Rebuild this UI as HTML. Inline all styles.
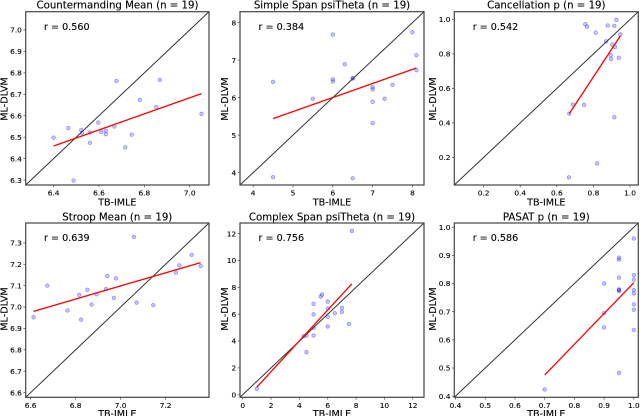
<!DOCTYPE html>
<html lang="en">
<head>
<meta charset="utf-8">
<title>TB-IMLE vs ML-DLVM</title>
<style>
html,body{margin:0;padding:0;background:#fff;width:640px;height:416px;overflow:hidden}
svg{display:block;filter:blur(0.3px)}
text{font-family:"DejaVu Sans","Liberation Sans",sans-serif;fill:#000;stroke:#000;stroke-width:0.12px}
.title{font-size:10.2px;text-anchor:middle}
.axis-label{font-size:9.6px;text-anchor:middle}
.r{font-size:9.6px}
.tick{font-size:7.4px}
</style>
</head>
<body>
<svg id="figure" width="640" height="416" viewBox="0 0 640 416" xmlns="http://www.w3.org/2000/svg">
  <g id="p0">
    <text class="title" x="117.5" y="8.7">Countermanding Mean (n = 19)</text>
    <text class="r" x="44" y="29.8">r = 0.560</text>
    <text class="axis-label" x="117.3" y="205.5">TB-IMLE</text>
    <text class="axis-label" transform="translate(7.5,99) rotate(-90)">ML-DLVM</text>
  </g>
  <g id="p1">
    <text class="title" x="332" y="8.7">Simple Span psiTheta (n = 19)</text>
    <text class="r" x="258.5" y="29.8">r = 0.384</text>
    <text class="axis-label" x="332" y="205.5">TB-IMLE</text>
    <text class="axis-label" transform="translate(228,99) rotate(-90)">ML-DLVM</text>
  </g>
  <g id="p2">
    <text class="title" x="546.3" y="8.7">Cancellation p (n = 19)</text>
    <text class="r" x="472.7" y="29.8">r = 0.542</text>
    <text class="axis-label" x="546.3" y="205.5">TB-IMLE</text>
    <text class="axis-label" transform="translate(436,99) rotate(-90)">ML-DLVM</text>
  </g>
  <g id="p3">
    <text class="title" x="117.3" y="220.7">Stroop Mean (n = 19)</text>
    <text class="r" x="44" y="240.8">r = 0.639</text>
    <text class="axis-label" x="117.3" y="417">TB-IMLE</text>
    <text class="axis-label" transform="translate(7.5,309) rotate(-90)">ML-DLVM</text>
  </g>
  <g id="p4">
    <text class="title" x="332" y="220.7">Complex Span psiTheta (n = 19)</text>
    <text class="r" x="258.5" y="240.8">r = 0.756</text>
    <text class="axis-label" x="332" y="417">TB-IMLE</text>
    <text class="axis-label" transform="translate(228,309) rotate(-90)">ML-DLVM</text>
  </g>
  <g id="p5">
    <text class="title" x="546.3" y="220.7">PASAT p (n = 19)</text>
    <text class="r" x="472.7" y="240.8">r = 0.586</text>
    <text class="axis-label" x="546.3" y="417">TB-IMLE</text>
    <text class="axis-label" transform="translate(436,309) rotate(-90)">ML-DLVM</text>
  </g>
</svg>
<script>
// ---- Chart data ----
const countermandingX = [6.40,6.465,6.488,6.522,6.525,6.56,6.56,6.597,6.61,6.63,6.63,6.668,6.677,6.716,6.744,6.78,6.853,6.868,7.052];
const countermandingY = [6.498,6.542,6.298,6.534,6.52,6.522,6.474,6.568,6.525,6.53,6.514,6.55,6.762,6.453,6.512,6.674,6.64,6.767,6.609];
const countermandingFitX = [6.40,7.052];
const countermandingFitY = [6.459,6.703];
const countermandingLim = [6.277,7.085];
const countermandingXTicks = ["6.4","6.6","6.8","7.0"];
const countermandingYTicks = ["6.3","6.4","6.5","6.6","6.7","6.8","6.9","7.0"];

const simpleSpanX = [4.5,4.5,5.5,6,6,6,6.3,6.5,6.5,6.5,7,7,7,7,7.3,7.5,8,8.1,8.1];
const simpleSpanY = [3.88,6.42,5.97,7.68,6.49,6.43,6.89,6.51,6.52,3.85,6.28,6.22,5.89,5.32,5.97,6.34,7.74,7.13,6.73];
const simpleSpanFitX = [4.5,8.1];
const simpleSpanFitY = [5.44,6.79];
const simpleSpanLim = [3.67,8.29];
const simpleSpanXTicks = ["4","5","6","7","8"];
const simpleSpanYTicks = ["4","5","6","7","8"];

const cancellationX = [0.666,0.668,0.688,0.749,0.755,0.765,0.812,0.82,0.869,0.878,0.894,0.896,0.903,0.914,0.914,0.918,0.925,0.938,0.947];
const cancellationY = [0.084,0.454,0.507,0.505,0.973,0.958,0.923,0.165,0.873,0.965,0.794,0.771,0.855,0.963,0.433,0.84,0.998,0.778,0.913];
const cancellationFitX = [0.668,0.947];
const cancellationFitY = [0.454,0.905];
const cancellationLim = [0.04,1.045];
const cancellationXTicks = ["0.2","0.4","0.6","0.8","1.0"];
const cancellationYTicks = ["0.2","0.4","0.6","0.8","1.0"];

const stroopX = [6.613,6.674,6.764,6.816,6.824,6.852,6.871,6.893,6.935,6.941,6.97,6.979,7.059,7.071,7.145,7.246,7.261,7.316,7.356];
const stroopY = [6.952,7.10,6.984,7.057,6.941,7.081,7.012,7.06,7.084,7.145,7.043,7.134,7.328,7.021,7.009,7.161,7.195,7.244,7.192];
const stroopFitX = [6.613,7.356];
const stroopFitY = [6.98,7.208];
const stroopLim = [6.578,7.393];
const stroopXTicks = ["6.6","6.8","7.0","7.2"];
const stroopYTicks = ["6.6","6.7","6.8","6.9","7.0","7.1","7.2","7.3"];

const complexSpanX = [1,4.3,4.5,4.5,5,5,5,5,5.5,5.6,6,6,6,6,6.5,7,7,7.5,7.7];
const complexSpanY = [0.45,4.36,4.41,3.17,6.77,5.98,4.98,4.41,7.31,7.46,6.94,6.42,5.8,5.08,6.07,6.47,6.17,5.28,12.2];
const complexSpanFitX = [1,7.7];
const complexSpanFitY = [0.57,8.26];
const complexSpanLim = [-0.19,12.79];
const complexSpanXTicks = ["0","2","4","6","8","10","12"];
const complexSpanYTicks = ["0","2","4","6","8","10","12"];

const pasatX = [0.7,0.9,0.9,0.9,0.95,0.95,0.95,0.95,0.95,0.95,0.95,1,1,1,1,1,1,1,1];
const pasatY = [0.424,0.8,0.695,0.644,0.892,0.885,0.821,0.779,0.777,0.773,0.483,0.96,0.83,0.814,0.777,0.765,0.726,0.707,0.635];
const pasatFitX = [0.7,1];
const pasatFitY = [0.475,0.803];
const pasatLim = [0.396,1.015];
const pasatXTicks = ["0.4","0.5","0.6","0.7","0.8","0.9","1.0"];
const pasatYTicks = ["0.4","0.5","0.6","0.7","0.8","0.9","1.0"];

// ---- Layout ----
const SVGNS = "http://www.w3.org/2000/svg";
const panels = [
  {id:"p0",l:25.7,r:209,t:11.7,b:185,x:countermandingX,y:countermandingY,fx:countermandingFitX,fy:countermandingFitY,lim:countermandingLim,xt:countermandingXTicks,yt:countermandingYTicks},
  {id:"p1",l:240,r:424,t:11.7,b:185,x:simpleSpanX,y:simpleSpanY,fx:simpleSpanFitX,fy:simpleSpanFitY,lim:simpleSpanLim,xt:simpleSpanXTicks,yt:simpleSpanYTicks},
  {id:"p2",l:454.3,r:638.3,t:11.7,b:185,x:cancellationX,y:cancellationY,fx:cancellationFitX,fy:cancellationFitY,lim:cancellationLim,xt:cancellationXTicks,yt:cancellationYTicks},
  {id:"p3",l:25.7,r:209,t:223,b:397.3,x:stroopX,y:stroopY,fx:stroopFitX,fy:stroopFitY,lim:stroopLim,xt:stroopXTicks,yt:stroopYTicks},
  {id:"p4",l:240,r:424,t:223,b:397.3,x:complexSpanX,y:complexSpanY,fx:complexSpanFitX,fy:complexSpanFitY,lim:complexSpanLim,xt:complexSpanXTicks,yt:complexSpanYTicks},
  {id:"p5",l:454.3,r:638.3,t:223,b:397.3,x:pasatX,y:pasatY,fx:pasatFitX,fy:pasatFitY,lim:pasatLim,xt:pasatXTicks,yt:pasatYTicks}
];

function make(parent, tag, attrs) {
  const el = document.createElementNS(SVGNS, tag);
  for (const k in attrs) el.setAttribute(k, attrs[k]);
  parent.appendChild(el);
  return el;
}

panels.forEach(function (p) {
  const g = document.getElementById(p.id);
  const sx = function (v) { return p.l + (v - p.lim[0]) / (p.lim[1] - p.lim[0]) * (p.r - p.l); };
  const sy = function (v) { return p.b - (v - p.lim[0]) / (p.lim[1] - p.lim[0]) * (p.b - p.t); };

  p.x.forEach(function (xv, i) {
    const c = make(g, "circle", {cx: sx(xv), cy: sy(p.y[i]), r: 1.8, fill: "rgba(0,0,255,0.22)", stroke: "rgba(0,0,255,0.4)", "stroke-width": 0.7});
    
    
  });

  const diag = make(g, "line", {x1: sx(p.lim[0]), y1: sy(p.lim[0]), x2: sx(p.lim[1]), y2: sy(p.lim[1]), stroke: "#333", "stroke-width": 1});
  
  

  const fit = make(g, "line", {x1: sx(p.fx[0]), y1: sy(p.fy[0]), x2: sx(p.fx[1]), y2: sy(p.fy[1]), stroke: "#f00", "stroke-width": 1.3});
  
  

  const frame = make(g, "rect", {x: p.l, y: p.t, width: p.r - p.l, height: p.b - p.t, fill: "none", stroke: "#444", "stroke-width": 1.2});
  
  

  p.xt.forEach(function (label) {
    const px = sx(parseFloat(label));
    const tick = make(g, "line", {x1: px, y1: p.b, x2: px, y2: p.b + 2.3, stroke: "#444", "stroke-width": 0.7});
    
    
    const t = make(g, "text", {class: "tick", x: px, y: p.b + 10.6, "text-anchor": "middle"});
    
    
    t.textContent = label;
  });

  p.yt.forEach(function (label) {
    const py = sy(parseFloat(label));
    const tick = make(g, "line", {x1: p.l - 2.3, y1: py, x2: p.l, y2: py, stroke: "#444", "stroke-width": 0.7});
    
    
    const t = make(g, "text", {class: "tick", x: p.l - 3.8, y: py + 2.7, "text-anchor": "end"});
    
    
    t.textContent = label;
  });
});
</script>
</body>
</html>
